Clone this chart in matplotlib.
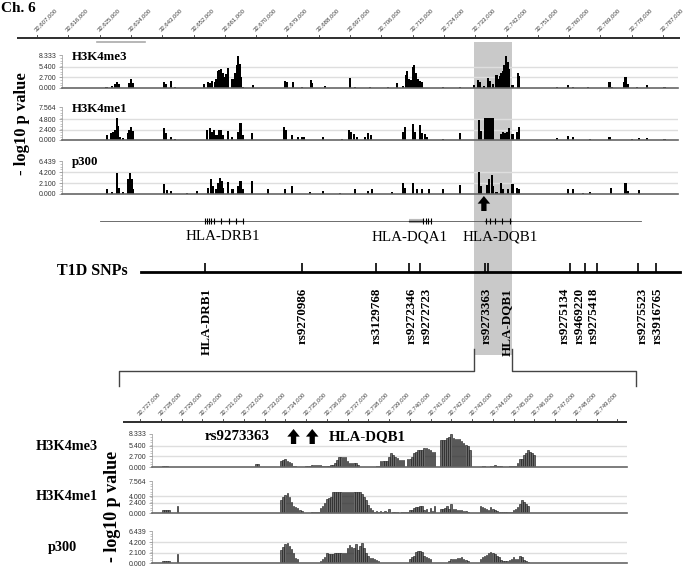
import numpy as np
import matplotlib.pyplot as plt
from matplotlib.ticker import MultipleLocator

SERIF = ['Liberation Serif', 'DejaVu Serif']
SANS = ['Liberation Sans', 'DejaVu Sans']
W, H = 685, 566

### ruler ticks (bp)
top_ticks = [32607000, 32616000, 32625000, 32634000, 32643000, 32652000,
             32661000, 32670000, 32679000, 32688000, 32697000, 32706000,
             32715000, 32724000, 32733000, 32742000, 32751000, 32760000,
             32769000, 32778000, 32787000]
zoom_ticks = [32727000, 32728000, 32729000, 32730000, 32731000, 32732000,
              32733000, 32734000, 32735000, 32736000, 32737000, 32738000,
              32739000, 32740000, 32741000, 32742000, 32743000, 32744000,
              32745000, 32746000, 32747000, 32748000, 32749000, 32750000]

track_names = ['H3K4me3', 'H3K4me1', 'p300']
track_ymax = [8.333, 7.564, 6.439]
top_yticks = [[0, 2.7, 5.4, 8.333], [0, 2.4, 4.8, 7.564], [0, 2.1, 4.2, 6.439]]
zoom_yticks = [[0, 2.7, 5.4, 8.333], [0, 2.4, 4.0, 7.564], [0, 2.1, 4.2, 6.439]]

### overview signal: position (kb) and -log10 p
me3_kb = [32627.0, 32628.6, 32629.4, 32630.0, 32630.6, 32633.4, 32634.0, 32634.6,
          32643.5, 32644.1, 32645.5, 32646.7, 32655.0, 32656.2, 32656.7, 32657.3,
          32658.2, 32658.7, 32659.0, 32659.3, 32659.9, 32660.5, 32661.0, 32661.3,
          32661.9, 32663.3, 32663.9, 32664.5, 32664.8, 32665.4, 32665.6, 32666.2,
          32669.1, 32678.3, 32678.9, 32680.6, 32683.2, 32685.8, 32686.1, 32689.8,
          32697.0, 32698.4, 32702.7, 32707.9, 32710.5, 32712.2, 32713.1, 32713.4,
          32714.0, 32714.5, 32715.1, 32715.4, 32716.0, 32716.5, 32717.1, 32717.7,
          32723.7, 32728.6, 32732.6, 32733.8, 32734.4, 32735.5, 32736.7, 32737.2,
          32738.1, 32739.2, 32739.5, 32740.1, 32740.4, 32741.0, 32741.5, 32741.8,
          32742.4, 32742.7, 32743.8, 32745.3, 32745.6, 32756.5, 32759.7, 32761.1,
          32765.4, 32771.7, 32772.3, 32775.8, 32776.3, 32776.9, 32779.5, 32782.4,
          32787.5]
me3_val = [0.35, 0.5, 1.0, 1.5, 0.9, 1.2, 2.2, 1.3,
           1.5, 1.0, 1.8, 0.3, 0.9, 1.6, 1.2, 1.8,
           1.6, 2.2, 4.4, 4.6, 4.8, 3.9, 2.7, 3.5,
           5.1, 2.2, 3.9, 5.7, 8.0, 6.1, 2.7, 0.3,
           0.7, 1.8, 1.4, 1.4, 0.2, 1.9, 1.2, 0.5,
           2.4, 0.3, 0.35, 0.2, 1.2, 0.5, 3.3, 4.4,
           2.2, 2.0, 5.2, 5.8, 3.9, 2.2, 1.8, 1.4,
           0.2, 0.2, 0.8, 1.9, 1.4, 0.5, 2.6, 1.8,
           0.9, 3.3, 2.2, 3.0, 3.9, 4.4, 5.7, 8.0,
           6.5, 4.8, 0.7, 3.9, 3.1, 0.2, 0.8, 0.3,
           0.3, 1.5, 0.3, 1.4, 2.7, 0.9, 0.2, 0.7,
           0.2]
me1_kb = [32627.1, 32628.3, 32628.8, 32629.4, 32630.0, 32630.3, 32630.9, 32631.7,
          32633.2, 32633.4, 32634.0, 32634.6, 32643.5, 32644.1, 32645.5, 32646.7,
          32655.9, 32656.7, 32657.3, 32657.9, 32658.7, 32659.3, 32659.9, 32660.5,
          32661.9, 32663.1, 32664.8, 32665.4, 32665.6, 32666.2, 32668.8, 32678.0,
          32678.6, 32680.3, 32682.0, 32683.2, 32683.8, 32689.2, 32694.7, 32696.7,
          32697.3, 32698.1, 32699.0, 32701.3, 32702.2, 32703.0, 32712.2, 32712.8,
          32715.1, 32715.7, 32717.1, 32717.7, 32718.6, 32719.1, 32723.7, 32728.6,
          32734.1, 32734.6, 32735.8, 32736.4, 32737.0, 32737.5, 32738.1, 32740.4,
          32741.0, 32741.5, 32742.1, 32742.7, 32743.8, 32745.0, 32745.6, 32756.5,
          32759.7, 32761.1, 32766.0, 32771.7, 32778.1, 32780.1, 32782.4, 32787.5]
me1_val = [1.2, 1.6, 1.9, 2.4, 5.1, 3.3, 0.8, 0.5,
           1.6, 2.4, 3.0, 2.0, 2.7, 1.6, 0.8, 0.2,
           2.2, 2.7, 1.9, 2.4, 1.2, 2.2, 2.2, 1.2,
           2.0, 0.8, 1.9, 2.8, 4.0, 1.2, 1.6, 3.0,
           2.4, 1.2, 0.8, 0.8, 0.6, 0.6, 0.2, 2.4,
           1.9, 1.4, 0.7, 0.7, 1.5, 1.1, 1.9, 3.0,
           3.7, 1.9, 3.5, 1.6, 1.4, 0.8, 0.2, 1.6,
           4.6, 2.0, 5.1, 5.1, 5.1, 5.1, 5.1, 1.4,
           1.9, 1.6, 1.9, 2.8, 1.4, 1.9, 3.0, 0.5,
           1.0, 0.8, 0.2, 0.7, 0.2, 0.5, 0.5, 0.2]
p300_kb = [32627.1, 32628.6, 32630.0, 32630.6, 32631.7, 32633.2, 32633.7, 32634.3,
           32634.6, 32643.5, 32644.4, 32645.5, 32650.1, 32653.0, 32656.2, 32657.0,
           32657.6, 32658.7, 32659.0, 32659.6, 32660.2, 32660.5, 32661.9, 32663.3,
           32664.8, 32665.6, 32666.2, 32668.8, 32673.4, 32678.3, 32680.3, 32685.5,
           32689.2, 32694.1, 32698.4, 32702.2, 32703.3, 32709.1, 32712.2, 32712.8,
           32715.1, 32716.3, 32717.7, 32719.7, 32723.7, 32728.6, 32734.1, 32734.6,
           32736.4, 32737.0, 32737.8, 32738.1, 32739.2, 32740.4, 32741.0, 32742.4,
           32743.8, 32745.0, 32745.6, 32759.7, 32761.1, 32764.0, 32766.0, 32772.0,
           32776.3, 32776.9, 32780.1]
p300_val = [0.9, 0.3, 4.0, 1.2, 0.3, 2.9, 4.0, 2.9,
            1.0, 1.9, 0.7, 0.5, 0.2, 0.5, 1.2, 2.9,
            1.5, 0.9, 2.2, 3.2, 2.5, 1.2, 2.3, 0.9,
            1.5, 2.5, 0.9, 2.5, 1.0, 0.9, 1.5, 0.3,
            0.6, 0.2, 1.0, 0.6, 0.9, 0.4, 2.2, 1.2,
            2.2, 1.0, 0.9, 1.0, 1.0, 1.7, 4.2, 1.5,
            1.7, 3.0, 3.7, 1.5, 0.3, 2.2, 1.0, 0.9,
            2.0, 1.2, 0.9, 1.0, 0.9, 0.2, 0.3, 1.2,
            2.1, 0.5, 0.7]

### zoomed signal: (first bin kb, heights of consecutive 100 bp bins)
me3_zoom = [
    (32728.1, [0.15, 0.15, 0.15]),
    (32732.6, [0.75, 0.75]),
    (32733.8, [1.4, 1.8, 1.95, 1.5, 1.3, 1.1,
               0.3, 0.2, 0.1, 0.1, 0.1, 0.1, 0.15, 0.15,
               0.3, 0.5, 0.55, 0.55, 0.5, 0.5, 0.3, 0.35, 0.35, 0.3, 0.4,
               0.6, 1.1, 1.8, 2.5, 2.6, 2.6, 2.5, 1.6, 1.0, 1.0, 1.0, 1.0, 0.5,
               0.1, 0.1, 0.1, 0.1, 0.1, 0.1, 0.1, 0.1, 0.15, 0.2,
               1.5, 1.5, 1.5, 1.5, 2.4, 3.6, 3.0, 2.6, 2.2, 1.7, 1.7, 1.7,
               0,
               1.9, 1.9, 2.6, 3.5, 3.9, 4.3, 4.3, 4.3, 4.8, 4.8, 4.6, 4.3, 3.9, 3.9,
               0, 0,
               6.7, 6.7, 6.7, 7.3, 7.6, 8.3, 7.3, 7.0, 7.0, 7.0, 6.6, 6.1, 5.6, 5.2, 4.2,
               0, 0.1, 0.1, 0.1, 0.1, 0.2, 0.2, 0.1, 0.1, 0.3, 0.2, 0.6, 0.3, 0.2,
               0.2, 0.1, 0.1, 0.1, 0.2, 0.3, 0.3,
               0.3, 0.9, 1.9, 2.0, 3.0, 3.5, 4.3, 3.9, 3.5, 3.0]),
]
me1_zoom = [
    (32728.1, [0.6, 0.6, 0.6, 0.6]),
    (32728.8, [1.6]),
    (32732.6, [0.1, 0.1]),
    (32733.8, [3.1, 3.75, 4.3, 4.7, 3.9, 2.7, 1.7, 1.4, 1.2, 0.6, 0.4,
               0.1, 0.1, 0.1, 0.1, 0.3, 0.3, 0.3, 0.3,
               1.2, 1.7, 2.3, 3.3, 3.5, 3.7, 5.0,
               5.0, 5.0, 5.0, 5.0, 5.0, 5.0, 5.0, 5.0, 5.0, 5.0, 5.0, 5.0, 5.0,
               4.4, 3.9, 3.1, 2.0, 1.2, 0.8,
               0.2, 0.4, 0.3, 0.4, 0.3, 0.4, 0.3, 0.9,
               0.1, 0.2, 0.2, 0.2, 0.1, 0.2, 0.2, 0.2,
               0.3, 0.6, 0.8, 1.2, 1.4, 1.5, 1.7, 1.7, 0.8, 0.9, 0.3, 1.2, 0.4, 1.7,
               0, 0, 0.9, 0.9, 1.2, 1.6, 1.0, 2.1, 1.0, 0.9, 0.6, 0.6, 0.6, 0.5, 0.4, 0.3,
               0.1, 0.1, 0, 0, 0, 1.6, 1.4, 1.2, 0.9, 0.6, 1.4, 0.9, 0.8, 0.5,
               0.2, 0.2, 0.2, 0.2, 0.2, 0.2, 0.3, 0.8,
               1.0, 1.4, 2.2, 3.1, 2.7, 2.2, 1.7]),
]
p300_zoom = [
    (32728.1, [0.4, 0.4, 0.4, 0.4]),
    (32728.8, [1.85]),
    (32731.0, [0.1, 0.1, 0.1, 0.1, 0.1]),
    (32732.5, [0.1, 0.1, 0.1]),
    (32733.8, [2.6, 3.3, 3.75, 4.1, 3.5, 2.8, 2.0, 1.0, 0.8,
               0.1, 0.1, 0.1, 0.1, 0.1, 0.1, 0.1, 0.1, 0.1, 0.1,
               0.5, 0.9, 1.3, 2.0, 1.9, 1.85, 1.85, 2.0, 2.0, 2.0, 2.0, 2.0, 2.0,
               3.0, 3.6, 3.3, 3.0, 3.8, 2.6, 3.4, 4.0, 3.0, 2.0, 1.5, 1.0, 1.0,
               0.8, 0.65, 0.4,
               0.1, 0.1, 0.1, 0.1, 0.1, 0.1, 0.1, 0.1, 0.1, 0.1, 0.1, 0.1, 0.1, 0.1,
               0.8, 1.2, 1.45, 2.3, 2.4, 2.4, 2.3, 1.45, 1.3, 1.0, 0.8,
               0.1, 0, 0, 0.05, 0.1, 0.1, 0.1, 0.1,
               0.5, 0.8, 0.8, 0.8, 1.0, 1.0, 1.2, 0.9, 0.6, 0.4,
               0.1, 0.1, 0.1, 0.1, 0.1,
               0.8, 1.3, 1.5, 1.65, 2.0, 2.3, 2.0, 1.85, 1.5, 1.3,
               0.65, 0.5, 0.5, 0.5, 0.6, 0.8,
               1.2, 0.9, 0.9, 1.45, 1.3, 0.65, 0.5, 0.3]),
]

### genes (kb)
gene_names = ['HLA-DRB1', 'HLA-DQA1', 'HLA-DQB1']
gene_start = [32655.3, 32714.0, 32735.8]
gene_end = [32666.2, 32720.3, 32743.3]
gene_exons = [[32655.3, 32655.9, 32656.4, 32657.0, 32657.8, 32659.9, 32662.2, 32664.2, 32666.2],
              [32718.0, 32718.8, 32719.4, 32720.3],
              [32736.1, 32737.2, 32738.7, 32740.7, 32743.0]]
gene_label_kb = [32660.5, 32714.2, 32740.1]

### T1D SNPs (kb)
snp_names = ['HLA-DRB1', 'rs9270986', 'rs3129768', 'rs9272346', 'rs9272723', 'rs9273363',
             'HLA-DQB1', 'rs9275134', 'rs9469220', 'rs9275418', 'rs9275523', 'rs3916765']
snp_kb = [32655.3, 32683.2, 32704.5, 32714.0, 32717.1, 32735.8,
          32736.7, 32760.2, 32764.6, 32768.0, 32779.8, 32785.0]
snp_label_kb = [32655.9, 32683.5, 32704.7, 32714.8, 32719.1, 32736.4,
                32742.1, 32758.8, 32763.1, 32767.1, 32781.2, 32785.5]

highlight = (32732.6, 32743.5)
zoom_window = (32726.0, 32750.9)
arrow_top_kb = 32735.5
arrow_zoom_kb = [32734.4, 32735.3]

fig = plt.figure(figsize=(W / 100, H / 100), dpi=100)


def place(x0, y0, x1, y1):
    return fig.add_axes([x0 / W, 1 - y1 / H, (x1 - x0) / W, (y1 - y0) / H])


def ftext(x, y, s, **kw):
    return fig.text(x / W, 1 - y / H, s, **kw)


def top_kb(x):
    return 32607.0 + (x - 37) * 9.0 / 31.3


def zoom_kb(x):
    return 32727.0 + (x - 140) / 20.75


def style_track(ax, ymax, ticks):
    ax.set_ylim(0, ymax)
    ax.set_yticks(ticks)
    ax.set_yticklabels(['%.3f' % v for v in ticks], fontsize=5, family=SANS, color='#333333')
    ax.yaxis.set_minor_locator(MultipleLocator(ymax / 12))
    ax.tick_params(axis='y', which='major', length=2.5, width=0.5, color='#888888', pad=1.5)
    ax.tick_params(axis='y', which='minor', length=1.5, width=0.4, color='#999999')
    ax.set_xticks([])
    ax.spines['top'].set_visible(False)
    ax.spines['right'].set_visible(False)
    ax.spines['left'].set_color('#999999')
    ax.spines['left'].set_linewidth(0.5)
    ax.spines['bottom'].set_color('#666666')
    ax.spines['bottom'].set_linewidth(1.2)
    for v in ticks[1:-1]:
        ax.axhline(v, color='#dedede', lw=1.0, zorder=0)
    ax.patch.set_visible(False)


def ruler(ax, ticks, x0, x1, y, labelled):
    ax.plot([x0, x1], [y, y], color='#1e1e1e', lw=1.3, solid_capstyle='butt')
    for i, t in enumerate(ticks):
        k = t / 1000.0
        ax.plot([k, k], [y - 3, y], color='#333333', lw=0.6)
        if i < labelled:
            ax.text(k, y - 6, f'{t:,}', rotation=45, rotation_mode='anchor',
                    ha='left', va='bottom', fontsize=4.3, color='#3a3a3a', family=SANS)


def up_arrow(ax, x, y_tip, y_tail):
    ax.annotate('', xy=(x, y_tip), xytext=(x, y_tail),
                arrowprops=dict(arrowstyle='simple,head_width=0.9,head_length=0.55,tail_width=0.38',
                                mutation_scale=10, fc='black', ec='black', lw=0,
                                shrinkA=0, shrinkB=0))


# ---------- overview canvas ----------
ax_g = place(0, 0, W, H)
ax_g.set_xlim(top_kb(0), top_kb(W))
ax_g.set_ylim(H, 0)
ax_g.axis('off')

ax_g.fill_between(list(highlight), 42, 355, color='#c9c9c9', lw=0, zorder=0)
ruler(ax_g, top_ticks, top_kb(17), top_kb(680), 38, len(top_ticks))
ax_g.plot([top_kb(97), top_kb(145)], [41.5, 41.5], color='#aaaaaa', lw=1.2)

# gene track
ax_g.plot([top_kb(100), top_kb(641)], [221, 221], color='#555555', lw=0.6)
for i, name in enumerate(gene_names):
    if name == 'HLA-DQA1':
        ax_g.plot([gene_start[i], gene_exons[i][0]], [221, 221], color='#bbbbbb', lw=3,
                  solid_capstyle='butt')
    ax_g.plot([gene_start[i], gene_end[i]], [221, 221], color='#222222', lw=0.9)
    ax_g.vlines(gene_exons[i], 218, 224, color='black', lw=0.8)
    ax_g.text(gene_label_kb[i], 237, name, ha='center', va='center', fontsize=10.8, family=SERIF)

up_arrow(ax_g, arrow_top_kb, 196, 211)

# SNP track
ftext(57, 271, 'T1D SNPs', fontsize=11.5, fontweight='bold', family=SERIF, va='center')
ax_g.plot([top_kb(141), top_kb(680)], [272, 272], color='black', lw=2)
ax_g.vlines(snp_kb, 263, 272, color='black', lw=1.2)
for k, name in zip(snp_label_kb, snp_names):
    ax_g.text(k, 288, name, rotation=90, ha='center', va='top', fontsize=9.4,
              fontweight='bold', family=SERIF)

# ---------- overview tracks ----------
top_rows = [(55, 88), (107, 140), (161, 194)]
top_data = [(me3_kb, me3_val), (me1_kb, me1_val), (p300_kb, p300_val)]
for i in range(3):
    ax = place(62, top_rows[i][0], 678, top_rows[i][1])
    ax.set_xlim(top_kb(62), top_kb(678))
    ax.bar(top_data[i][0], top_data[i][1], width=0.75, color='black', lw=0, zorder=2)
    style_track(ax, track_ymax[i], top_yticks[i])
    ftext(72, top_rows[i][0] + 1.5, track_names[i], fontsize=9.3, fontweight='bold',
          family=SERIF, va='center')
ftext(22, 124, '- log10 p value', rotation=90, fontsize=12, fontweight='bold',
      family=SERIF, ha='center', va='center')

# ---------- zoomed tracks ----------
zoom_rows = [(434, 467), (481, 513), (531, 563)]
zoom_data = [me3_zoom, me1_zoom, p300_zoom]
zoom_label_x = [67, 67, 62]
zoom_label_y = [447, 497, 548]
for i in range(3):
    ax = place(152, zoom_rows[i][0], 627, zoom_rows[i][1])
    ax.set_xlim(zoom_kb(152), zoom_kb(627))
    for start, heights in zoom_data[i]:
        pos = start + 0.1 * np.arange(len(heights))
        ax.bar(pos, heights, width=0.075, color='#6a6a6a', edgecolor='#111111', lw=0.4, zorder=2)
    style_track(ax, track_ymax[i], zoom_yticks[i])
    ftext(zoom_label_x[i], zoom_label_y[i], track_names[i], fontsize=10.3, fontweight='bold',
          family=SERIF, ha='center', va='center')
ftext(112.5, 506, '- log10 p value', rotation=90, fontsize=13, fontweight='bold',
      family=SERIF, ha='center', va='center')

# ---------- zoom canvas (on top) ----------
ax_b = place(0, 0, W, H)
ax_b.set_xlim(zoom_kb(0), zoom_kb(W))
ax_b.set_ylim(H, 0)
ax_b.axis('off')

ruler(ax_b, zoom_ticks, zoom_kb(123), zoom_kb(627), 422, len(zoom_ticks) - 1)

# bracket linking highlighted region to zoom window
to_b = ax_b.transData.inverted()
h0 = to_b.transform(ax_g.transData.transform((highlight[0], 0)))[0]
h1 = to_b.transform(ax_g.transData.transform((highlight[1], 0)))[0]
ax_b.plot([zoom_window[0], zoom_window[0], h0, h0], [386, 371, 371, 349], color='#444444', lw=1)
ax_b.plot([zoom_window[1], zoom_window[1], h1, h1], [386, 371, 371, 349], color='#444444', lw=1)

for k in arrow_zoom_kb:
    up_arrow(ax_b, k, 429, 444)
box = dict(fc='white', ec='none', pad=0.6)
ax_b.text(32731.7, 437, 'rs9273363', ha='center', va='center', fontsize=10.8,
          fontweight='bold', family=SERIF, bbox=box)
ax_b.text(32737.96, 437, 'HLA-DQB1', ha='center', va='center', fontsize=10.8,
          fontweight='bold', family=SERIF, bbox=box)

ftext(1, 8, 'Ch. 6', fontsize=11, fontweight='bold', family=SERIF, va='center')

fig.savefig('out.png', dpi=100)
